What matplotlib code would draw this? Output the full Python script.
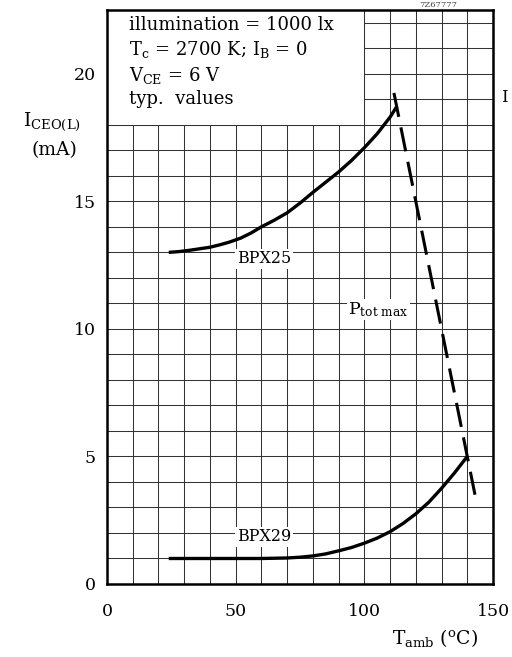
import matplotlib
matplotlib.use("Agg")
import matplotlib.pyplot as plt
from matplotlib.patches import Rectangle
import numpy as np

plt.rcParams["mathtext.fontset"] = "dejavuserif"

# Data
bpx25_t = [24, 28, 32, 36, 40, 44, 47.5, 52, 56, 60, 65, 70, 75, 80, 85, 90, 95, 100, 105, 110, 112.5]
bpx25_i = [13.0, 13.03, 13.08, 13.14, 13.2, 13.3, 13.4, 13.56, 13.76, 14.0, 14.26, 14.55, 14.93, 15.35, 15.75, 16.15, 16.6, 17.1, 17.65, 18.3, 18.7]

bpx29_t = [24, 40, 60, 70, 75, 80, 85, 90, 95, 100, 105, 110, 115, 120, 125, 130, 135, 140]
bpx29_i = [1.0, 1.0, 1.0, 1.02, 1.05, 1.1, 1.18, 1.3, 1.43, 1.6, 1.8, 2.05, 2.37, 2.75, 3.2, 3.75, 4.35, 5.0]

ptot_t = [111.5, 143]
ptot_i = [19.25, 3.5]

xticks = [0, 50, 100, 150]
yticks = [0, 5, 10, 15, 20]

serif = ["DejaVu Serif"]

fig = plt.figure(figsize=(5.12, 6.57), dpi=100)
ax = fig.add_axes([107/512, 1-584/657, 386/512, 574/657])
ax.set_xlim(0, 150)
ax.set_ylim(0, 22.5)
ax.set_xticks(np.arange(0, 151, 10))
ax.set_yticks(np.arange(0, 23, 1))
ax.grid(True, color="#333333", lw=0.75)
ax.set_axisbelow(True)
ax.tick_params(length=0, labelsize=12.5)
ax.set_xticklabels([str(v) if v in xticks else "" for v in range(0, 151, 10)], family=serif)
ax.set_yticklabels([str(v) if v in yticks else "" for v in range(0, 23)], family=serif)
ax.tick_params(axis="x", pad=14)
ax.tick_params(axis="y", pad=8)
for s in ax.spines.values():
    s.set_linewidth(1.8)

# text box area (no grid)
ax.add_patch(Rectangle((0, 18), 100, 4.5, facecolor="white", edgecolor="#333333", lw=0.75, zorder=1))

ax.plot(bpx25_t, bpx25_i, color="black", lw=2.4, zorder=3, solid_capstyle="butt")
ax.plot(bpx29_t, bpx29_i, color="black", lw=2.4, zorder=3, solid_capstyle="butt")
ax.plot(ptot_t, ptot_i, color="black", lw=2.2, dashes=(8, 3.5), zorder=3)

bbox = dict(facecolor="white", edgecolor="none", pad=1)
ax.text(61, 12.75, "BPX25", family=serif, fontsize=11.5, ha="center", va="center", bbox=bbox, zorder=2.5)
ax.text(61, 1.85, "BPX29", family=serif, fontsize=11.5, ha="center", va="center", bbox=bbox, zorder=2.5)
ax.text(105.5, 10.75, r"P$_{\rm tot\ max}$", family=serif, fontsize=12.5, ha="center", va="center", bbox=bbox, zorder=2.5)

fs = 13
ax.text(8.5, 21.9, "illumination = 1000 lx", family=serif, fontsize=fs, va="center", zorder=4)
ax.text(8.5, 20.95, r"T$_{\rm c}$ = 2700 K; I$_{\rm B}$ = 0", family=serif, fontsize=fs, va="center", zorder=4)
ax.text(8.5, 19.95, r"V$_{\rm CE}$ = 6 V", family=serif, fontsize=fs, va="center", zorder=4)
ax.text(8.5, 19.0, "typ.  values", family=serif, fontsize=fs, va="center", zorder=4)

fig.text(52/512, 1-122/657, r"I$_{\rm CEO(L)}$", family=serif, fontsize=13.5, ha="center", va="center")
fig.text(54/512, 1-150/657, "(mA)", family=serif, fontsize=13.5, ha="center", va="center")
fig.text(435/512, 1-638/657, r"T$_{\rm amb}$ ($^{\rm o}$C)", family=serif, fontsize=13.5, ha="center", va="center")

fig.text(438/512, 1-1/657, "7Z67777", family=serif, fontsize=6, ha="center", va="top", color="#444444")
fig.text(504/512, 1-97/657, "I", family=serif, fontsize=12, ha="center", va="center")

fig.savefig("out.png", dpi=100)
